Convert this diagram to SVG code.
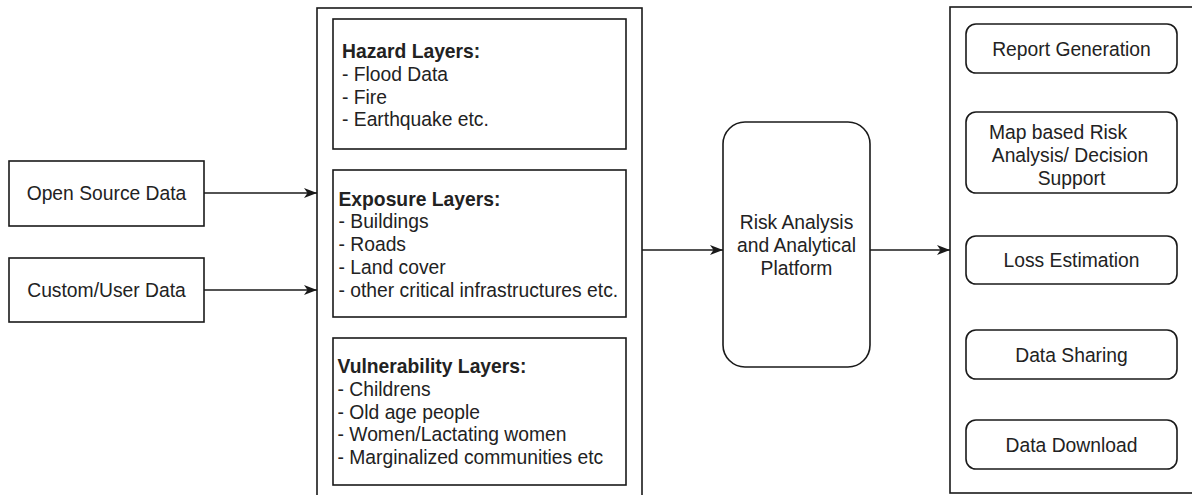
<svg xmlns="http://www.w3.org/2000/svg" width="1192" height="495" viewBox="0 0 1192 495">
<defs>
<style>
.box{fill:#fff;stroke:#1a1a1a;stroke-width:1.6}
.t{font-family:"Liberation Sans",Arial,sans-serif;font-size:19.3px;fill:#222}
.c{text-anchor:middle}
.b{font-weight:bold}
.edge{fill:none;stroke:#1a1a1a;stroke-width:1.6}
</style>
<marker id="arr" markerUnits="userSpaceOnUse" markerWidth="14" markerHeight="12" refX="13" refY="6" orient="auto">
<path d="M0,1 L13,6 L0,11 L3.5,6 z" fill="#1a1a1a"/>
</marker>
</defs>
<rect width="1192" height="495" fill="#fff"/>

<g id="open-source">
<rect class="box" x="9" y="161" width="195" height="65"/>
<text class="t c" x="106.5" y="200">Open Source Data</text>
</g>
<g id="custom-user">
<rect class="box" x="9" y="258" width="195" height="64"/>
<text class="t c" x="106.5" y="297">Custom/User Data</text>
</g>

<g id="layers-container">
<rect class="box" x="317" y="8" width="325" height="500"/>
</g>
<g id="hazard">
<rect class="box" x="333" y="19" width="293" height="130"/>
<text class="t" x="342" y="58"><tspan class="b">Hazard Layers:</tspan><tspan x="342" dy="22.8">- Flood Data</tspan><tspan x="342" dy="22.8">- Fire</tspan><tspan x="342" dy="22.8">- Earthquake etc.</tspan></text>
</g>
<g id="exposure">
<rect class="box" x="333" y="170" width="293" height="147"/>
<text class="t" x="338.5" y="205.5"><tspan class="b">Exposure Layers:</tspan><tspan x="338.5" dy="22.8">- Buildings</tspan><tspan x="338.5" dy="22.8">- Roads</tspan><tspan x="338.5" dy="22.8">- Land cover</tspan><tspan x="338.5" dy="22.8">- other critical infrastructures etc.</tspan></text>
</g>
<g id="vulnerability">
<rect class="box" x="333" y="338" width="293" height="147"/>
<text class="t" x="337.5" y="373"><tspan class="b">Vulnerability Layers:</tspan><tspan x="337.5" dy="22.8">- Childrens</tspan><tspan x="337.5" dy="22.8">- Old age people</tspan><tspan x="337.5" dy="22.8">- Women/Lactating women</tspan><tspan x="337.5" dy="22.8">- Marginalized communities etc</tspan></text>
</g>

<g id="platform">
<rect class="box" x="723" y="122" width="147" height="245" rx="22" ry="22"/>
<text class="t c" x="796.5" y="229"><tspan x="796.5">Risk Analysis</tspan><tspan x="796.5" dy="22.8">and Analytical</tspan><tspan x="796.5" dy="22.8">Platform</tspan></text>
</g>

<g id="outputs-container">
<rect class="box" x="950" y="7" width="260" height="486"/>
</g>
<g id="report-generation">
<rect class="box" x="966" y="24" width="211" height="49" rx="10" ry="10"/>
<text class="t c" x="1071.5" y="55.5">Report Generation</text>
</g>
<g id="map-risk">
<rect class="box" x="966" y="112" width="211" height="81" rx="10" ry="10"/>
<text class="t c" x="1071.5" y="139"><tspan x="1058">Map based Risk</tspan><tspan x="1070" dy="22.8">Analysis/ Decision</tspan><tspan x="1071.5" dy="22.8">Support</tspan></text>
</g>
<g id="loss-estimation">
<rect class="box" x="966" y="236" width="211" height="48" rx="10" ry="10"/>
<text class="t c" x="1071.5" y="267">Loss Estimation</text>
</g>
<g id="data-sharing">
<rect class="box" x="966" y="330" width="211" height="49" rx="10" ry="10"/>
<text class="t c" x="1071.5" y="361.5">Data Sharing</text>
</g>
<g id="data-download">
<rect class="box" x="966" y="420" width="211" height="49" rx="10" ry="10"/>
<text class="t c" x="1071.5" y="451.5">Data Download</text>
</g>

<g id="connectors">
<path class="edge" d="M204,193 L317,193" marker-end="url(#arr)"/>
<path class="edge" d="M204,290 L317,290" marker-end="url(#arr)"/>
<path class="edge" d="M642,250 L723,250" marker-end="url(#arr)"/>
<path class="edge" d="M870,250 L950,250" marker-end="url(#arr)"/>
</g>
</svg>
